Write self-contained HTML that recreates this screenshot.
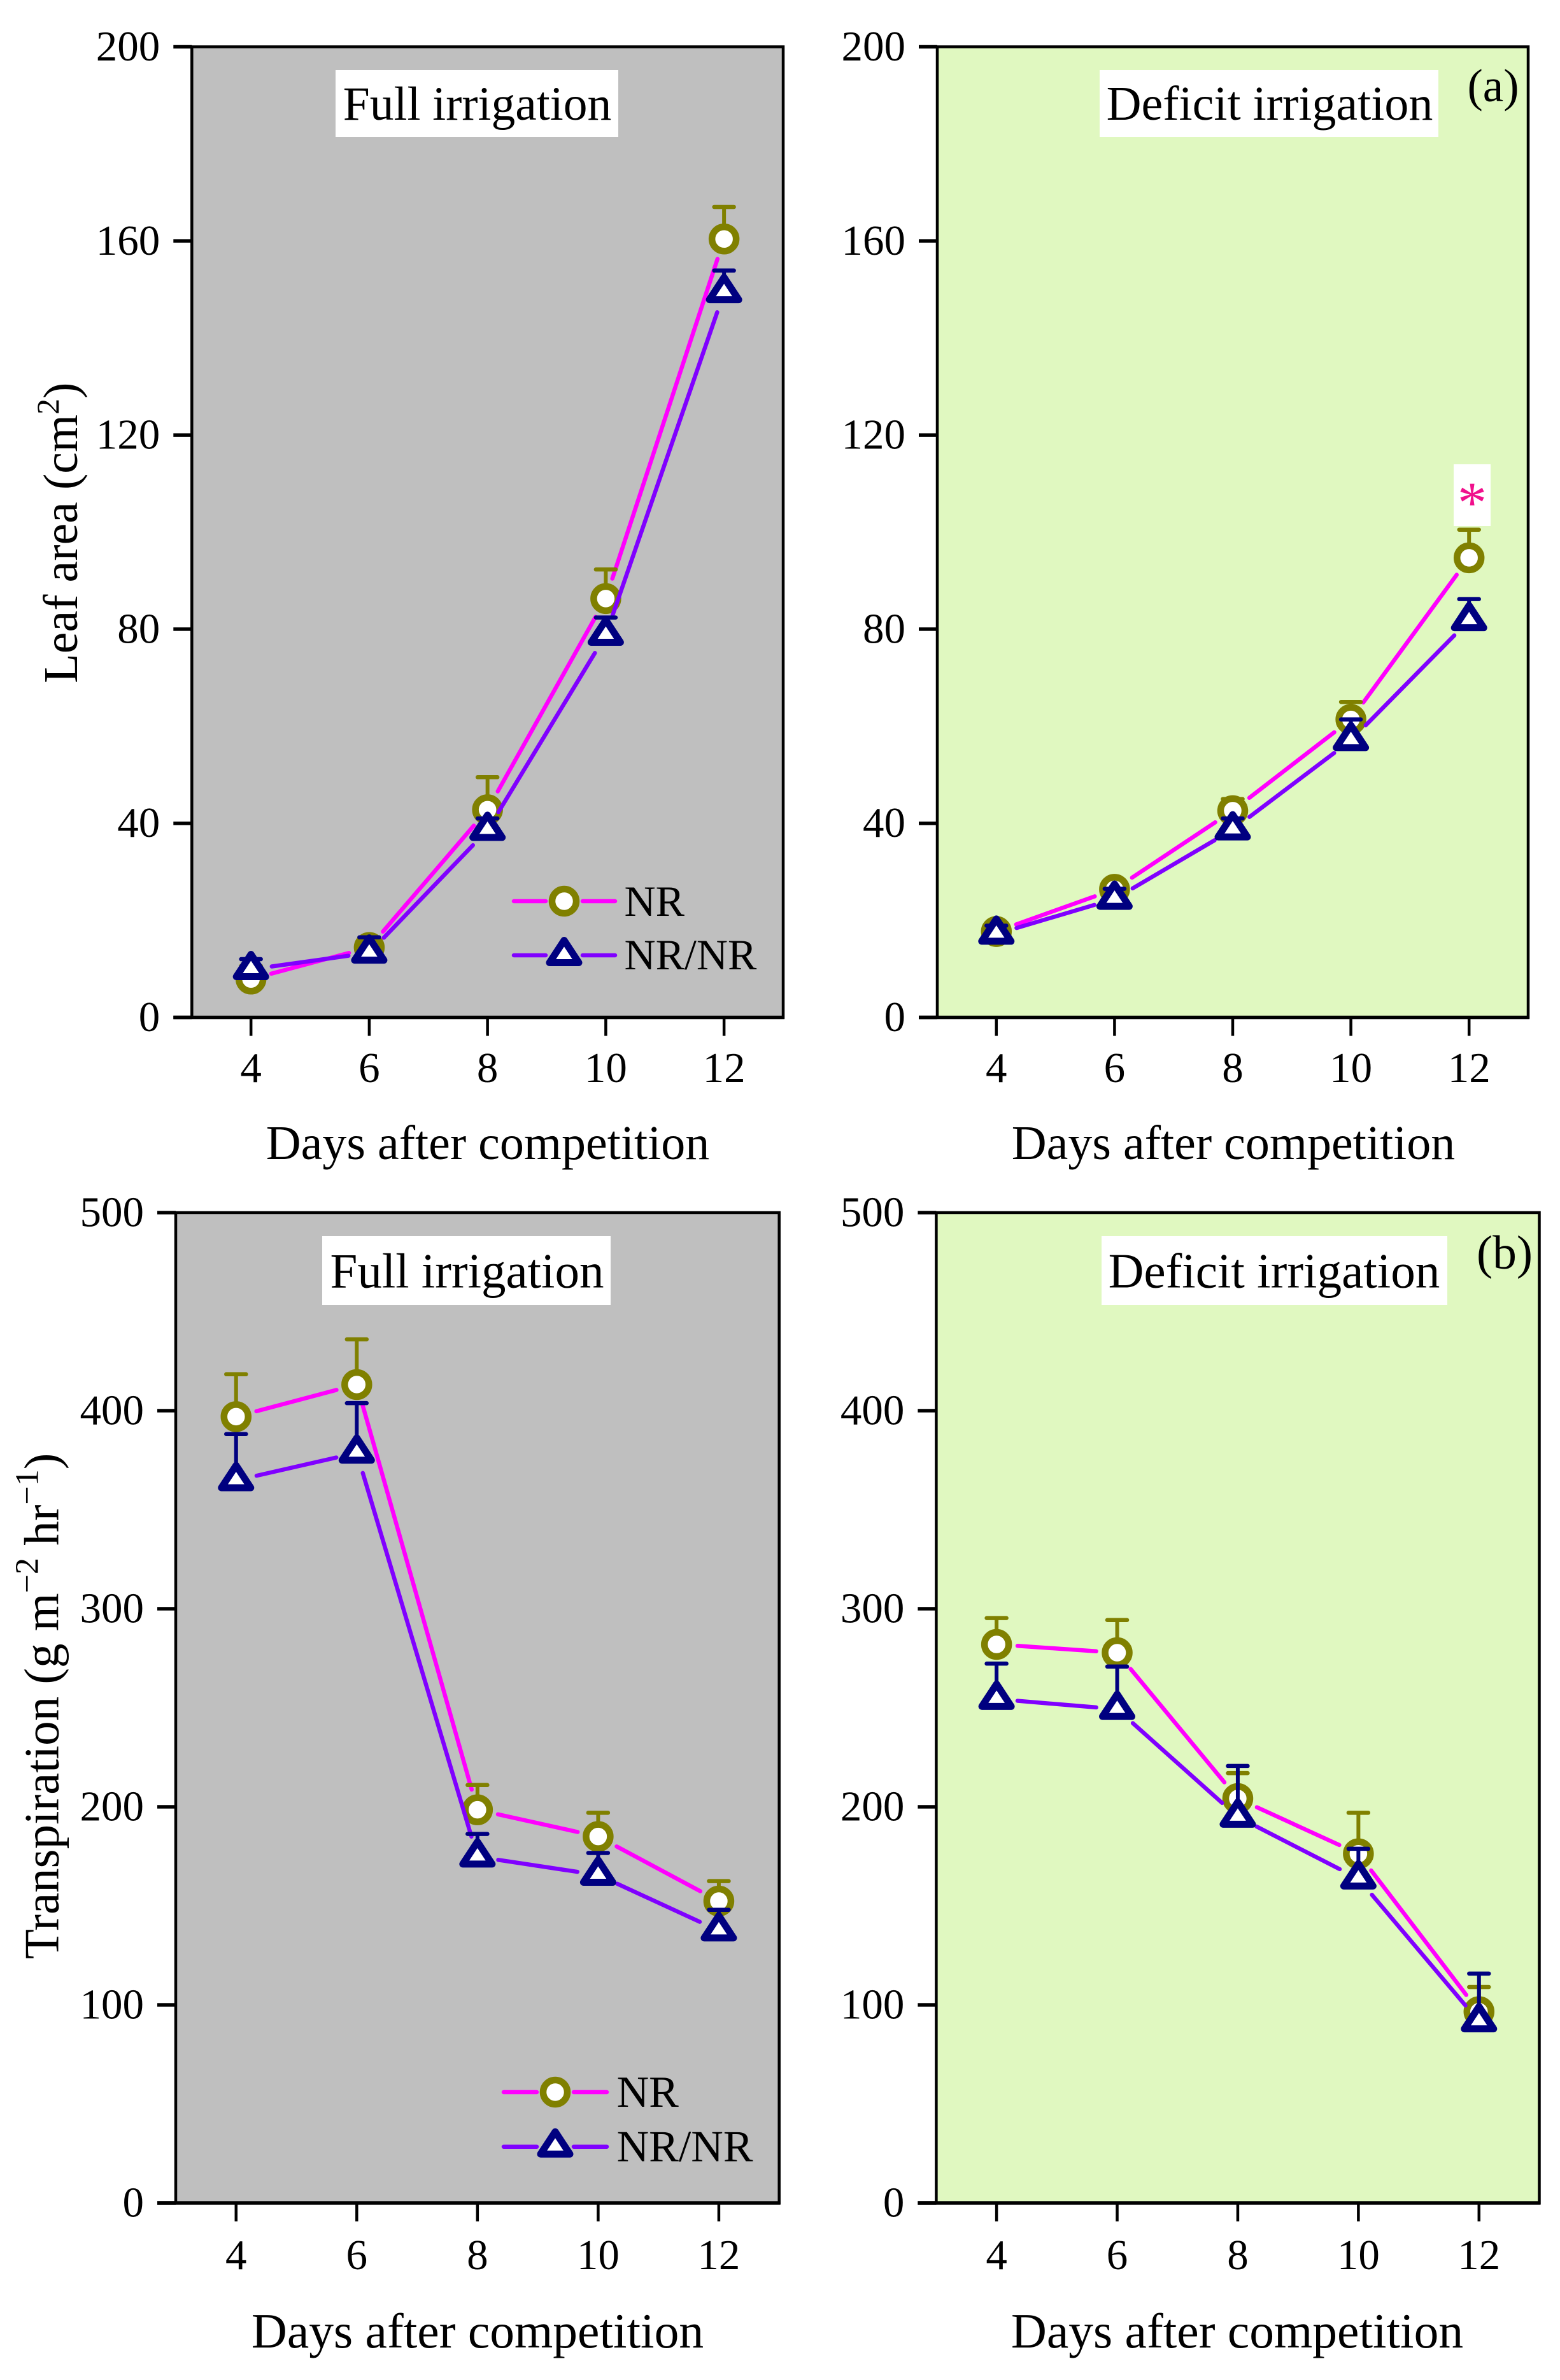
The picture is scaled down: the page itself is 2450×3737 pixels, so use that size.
<!DOCTYPE html>
<html lang="en">
<head>
<meta charset="utf-8">
<title>Leaf area and transpiration under full and deficit irrigation</title>
<style>
  html, body { margin: 0; padding: 0; background: #ffffff; }
  svg { display: block; }
  text { font-family: "Liberation Serif", serif; fill: #000000; }
</style>
</head>
<body>
<svg xmlns="http://www.w3.org/2000/svg" width="2450" height="3737" viewBox="0 0 2450 3737">
  <rect x="0" y="0" width="2450" height="3737" fill="#ffffff"/>
  <g id="plots"></g>

  <!-- Axis titles -->
  <text transform="translate(121,1072.7) rotate(-90)" font-size="76">Leaf area (cm<tspan dy="-29" font-size="50">2</tspan><tspan dy="29">)</tspan></text>
  <text transform="translate(91.7,3076) rotate(-90)" font-size="77">Transpiration (g m<tspan dy="-32" font-size="52">−2</tspan><tspan dy="32"> hr</tspan><tspan dy="-32" font-size="52">−1</tspan><tspan dy="32">)</tspan></text>
  <text x="766" y="1820" font-size="76" text-anchor="middle">Days after competition</text>
  <text x="1937" y="1820" font-size="76" text-anchor="middle">Days after competition</text>
  <text x="750" y="3686" font-size="77.5" text-anchor="middle">Days after competition</text>
  <text x="1943" y="3686" font-size="77.5" text-anchor="middle">Days after competition</text>

  <!-- Panel captions -->
  <rect x="527" y="110" width="444" height="105" fill="#ffffff"/>
  <text x="749.5" y="188" font-size="75.5" text-anchor="middle">Full irrigation</text>
  <rect x="1727" y="110" width="532" height="105" fill="#ffffff"/>
  <text x="1994" y="188" font-size="76" text-anchor="middle">Deficit irrigation</text>
  <text x="2345" y="159" font-size="73" text-anchor="middle">(a)</text>
  <rect x="506" y="1941" width="453" height="108" fill="#ffffff"/>
  <text x="733.5" y="2021.5" font-size="77" text-anchor="middle">Full irrigation</text>
  <rect x="1730" y="1941" width="543" height="108" fill="#ffffff"/>
  <text x="2001" y="2021.5" font-size="77.2" text-anchor="middle">Deficit irrigation</text>
  <text x="2363" y="1992" font-size="75.5" text-anchor="middle">(b)</text>

  <!-- Significance marker -->
  <rect x="2283" y="729" width="58" height="97" fill="#ffffff"/>
  <text x="2312" y="820" font-size="92" text-anchor="middle" style="fill:#f0108c">*</text>

  <g id="legends"></g>
</svg>

<script>
// ---- Chart data ----
const days = [4, 6, 8, 10, 12];
const leafTicks = [0, 40, 80, 120, 160, 200];
const transpirationTicks = [0, 100, 200, 300, 400, 500];

const leafFullNr = [7.9, 14.4, 42.8, 86.3, 160.4];
const leafFullNrTop = [10.6, 16.5, 49.5, 92.3, 167];
const leafFullNrNr = [9.9, 13.3, 38.6, 78.8, 149.4];
const leafFullNrNrTop = [12, 16.5, 41, 82.4, 153.9];

const leafDeficitNr = [17.7, 26.4, 42.6, 61.4, 94.7];
const leafDeficitNrTop = [18.9, 28, 45, 65, 100.5];
const leafDeficitNrNr = [17.2, 24.4, 38.7, 57.1, 81.8];
const leafDeficitNrNrTop = [18.9, 26.5, 41, 61.4, 86.2];

const transFullNr = [397, 413.2, 198.5, 185, 152.4];
const transFullNrTop = [418.4, 436, 211, 197, 162.5];
const transFullNrNr = [364.8, 378.7, 174.8, 165.6, 137.5];
const transFullNrNrTop = [388.2, 403.8, 186.3, 176.7, 148];

const transDeficitNr = [282, 277.8, 204.2, 176.3, 96.6];
const transDeficitNrTop = [295.3, 294.3, 217, 197, 109];
const transDeficitNrNr = [254.4, 249.3, 194.9, 163.7, 91.6];
const transDeficitNrNrTop = [272.3, 270.8, 220.6, 178.8, 115.8];

const xDomain = [3, 13];

// ---- Drawing ----
const SVG_NS = 'http://www.w3.org/2000/svg';
const PINK = '#ff00ff', PURPLE = '#8000ff', OLIVE = '#808000', NAVY = '#000080';
const LINE_GAP = 33;

function mk(tag, attrs, parent) {
  const el = document.createElementNS(SVG_NS, tag);
  for (const k in attrs) el.setAttribute(k, attrs[k]);
  parent.appendChild(el);
  return el;
}

function drawCircle(parent, cx, cy, name) {
  const el = mk('circle', { cx: cx, cy: cy, r: 19, fill: '#ffffff', stroke: OLIVE, 'stroke-width': 10.5 }, parent);
  
  
}

function drawTriangle(parent, cx, cy, name) {
  const pts = [[cx - 23, cy + 11.5], [cx + 23, cy + 11.5], [cx, cy - 23.5]].map(function (p) { return p.join(','); }).join(' ');
  const el = mk('polygon', { points: pts, fill: '#ffffff', stroke: NAVY, 'stroke-width': 11, 'stroke-linejoin': 'round' }, parent);
  
  
}

function drawSeries(parent, sx, sy, values, tops, lineColor, errColor, label, marker) {
  const g = mk('g', {}, parent);
  
  

  for (let i = 0; i + 1 < days.length; i++) {
    const x1 = sx(days[i]), y1 = sy(values[i]), x2 = sx(days[i + 1]), y2 = sy(values[i + 1]);
    const len = Math.hypot(x2 - x1, y2 - y1);
    if (len <= 2 * LINE_GAP) continue;
    const ux = (x2 - x1) / len, uy = (y2 - y1) / len;
    const seg = mk('line', {
      x1: x1 + ux * LINE_GAP, y1: y1 + uy * LINE_GAP,
      x2: x2 - ux * LINE_GAP, y2: y2 - uy * LINE_GAP,
      stroke: lineColor, 'stroke-width': 6.5, 'stroke-linecap': 'round'
    }, g);
    
    
  }

  days.forEach(function (d, i) {
    const x = sx(d), y = sy(values[i]), top = sy(tops[i]);
    const stem = mk('line', { x1: x, y1: y, x2: x, y2: top, stroke: errColor, 'stroke-width': 6 }, g);
    
    
    const cap = mk('line', { x1: x - 15.5, y1: top, x2: x + 15.5, y2: top, stroke: errColor, 'stroke-width': 6.5, 'stroke-linecap': 'round' }, g);
    
    
    marker(g, x, y, 'point-' + label + '-day-' + d);
  });
}

function drawPanel(opt) {
  const root = document.getElementById('plots');
  const g = mk('g', {}, root);
  
  

  const sx = function (v) { return opt.left + (v - xDomain[0]) / (xDomain[1] - xDomain[0]) * (opt.right - opt.left); };
  const yMax = opt.ticks[opt.ticks.length - 1];
  const sy = function (v) { return opt.bottom - v / yMax * (opt.bottom - opt.top); };

  const bg = mk('rect', {
    x: opt.left, y: opt.top, width: opt.right - opt.left, height: opt.bottom - opt.top,
    fill: opt.fill, stroke: '#000000', 'stroke-width': 4.5
  }, g);
  
  

  const xAxisLine = mk('line', { x1: opt.left - 29, y1: opt.bottom, x2: opt.right + 2, y2: opt.bottom, stroke: '#000000', 'stroke-width': 5.5 }, g);
  
  

  opt.ticks.forEach(function (t) {
    const y = sy(t);
    const tick = mk('line', { x1: opt.left - 29, y1: y, x2: opt.left, y2: y, stroke: '#000000', 'stroke-width': 5.5 }, g);
    
    
    const lab = mk('text', { x: opt.left - 50, y: y + 21.5, 'font-size': 67, 'text-anchor': 'end' }, g);
    
    
    lab.textContent = String(t);
  });

  days.forEach(function (d) {
    const x = sx(d);
    const tick = mk('line', { x1: x, y1: opt.bottom, x2: x, y2: opt.bottom + 29, stroke: '#000000', 'stroke-width': 4.5 }, g);
    
    
    const lab = mk('text', { x: x, y: opt.xLabelY, 'font-size': 67, 'text-anchor': 'middle' }, g);
    
    
    lab.textContent = String(d);
  });

  drawSeries(g, sx, sy, opt.nr, opt.nrTop, PINK, OLIVE, 'nr', drawCircle);
  drawSeries(g, sx, sy, opt.nrnr, opt.nrnrTop, PURPLE, NAVY, 'nr-nr', drawTriangle);
}

drawPanel({
  name: 'leaf-area-full-irrigation', left: 301.3, right: 1230, top: 73.5, bottom: 1597.5, fill: '#bfbfbf',
  ticks: leafTicks, xLabelY: 1699,
  nr: leafFullNr, nrTop: leafFullNrTop, nrnr: leafFullNrNr, nrnrTop: leafFullNrNrTop
});
drawPanel({
  name: 'leaf-area-deficit-irrigation', left: 1472, right: 2400, top: 73.5, bottom: 1597.5, fill: '#e0f8c0',
  ticks: leafTicks, xLabelY: 1699,
  nr: leafDeficitNr, nrTop: leafDeficitNrTop, nrnr: leafDeficitNrNr, nrnrTop: leafDeficitNrNrTop
});
drawPanel({
  name: 'transpiration-full-irrigation', left: 276, right: 1223.7, top: 1904, bottom: 3459, fill: '#bfbfbf',
  ticks: transpirationTicks, xLabelY: 3563,
  nr: transFullNr, nrTop: transFullNrTop, nrnr: transFullNrNr, nrnrTop: transFullNrNrTop
});
drawPanel({
  name: 'transpiration-deficit-irrigation', left: 1470.4, right: 2417.5, top: 1904, bottom: 3459, fill: '#e0f8c0',
  ticks: transpirationTicks, xLabelY: 3563,
  nr: transDeficitNr, nrTop: transDeficitNrTop, nrnr: transDeficitNrNr, nrnrTop: transDeficitNrNrTop
});

function drawLegendEntry(x1, x2, cx, y, color, marker, label, textX, textY, fontSize, name) {
  const parent = document.getElementById('legends');
  const g = mk('g', {}, parent);
  
  
  const left = mk('line', { x1: x1, y1: y, x2: cx - 29, y2: y, stroke: color, 'stroke-width': 6.5, 'stroke-linecap': 'round' }, g);
  
  
  const right = mk('line', { x1: cx + 29, y1: y, x2: x2, y2: y, stroke: color, 'stroke-width': 6.5, 'stroke-linecap': 'round' }, g);
  
  
  marker(g, cx, y, 'legend-marker');
  const t = mk('text', { x: textX, y: textY, 'font-size': fontSize }, g);
  
  
  t.textContent = label;
}

drawLegendEntry(807, 966, 886, 1415, PINK, drawCircle, 'NR', 980.5, 1438, 68, 'legend-entry-nr-leaf');
drawLegendEntry(807, 966, 886, 1500, PURPLE, drawTriangle, 'NR/NR', 980.5, 1522, 68, 'legend-entry-nr-nr-leaf');
drawLegendEntry(791, 953, 872, 3285, PINK, drawCircle, 'NR', 968.6, 3308, 70, 'legend-entry-nr-transpiration');
drawLegendEntry(791, 953, 872, 3370.7, PURPLE, drawTriangle, 'NR/NR', 968.6, 3393.4, 70, 'legend-entry-nr-nr-transpiration');
</script>
</body>
</html>
